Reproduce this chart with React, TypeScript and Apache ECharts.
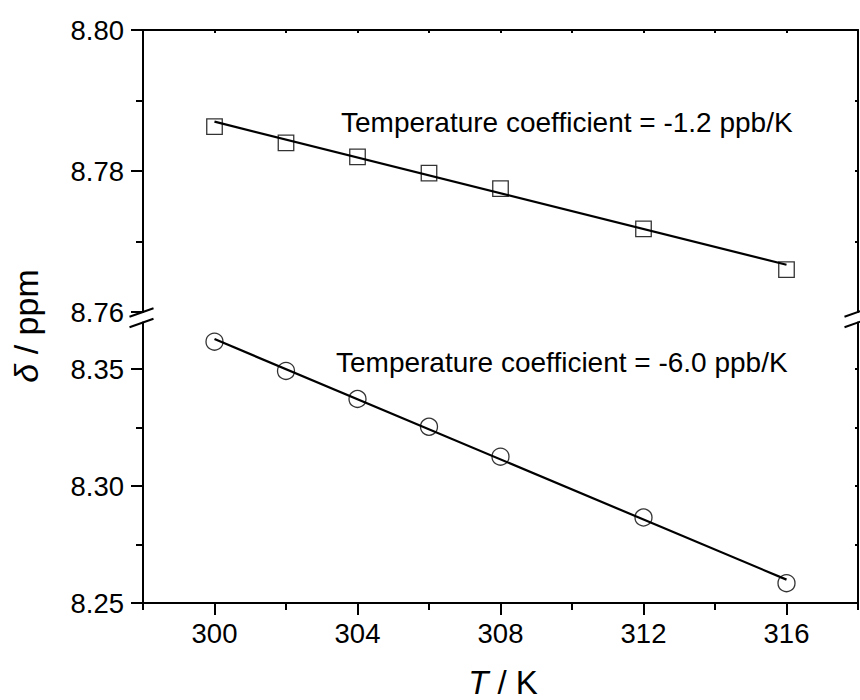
import React, { useEffect, useRef } from "react";
import * as echarts from "echarts";

const temps = [300, 302, 304, 306, 308, 312, 316];
const upperShift = [8.7863, 8.784, 8.782, 8.7797, 8.7775, 8.7718, 8.766];
const lowerShift = [8.3618, 8.3493, 8.3373, 8.3254, 8.3126, 8.2866, 8.2585];
const fitT = [300, 316];
const upperFit = [8.787, 8.7667];
const lowerFit = [8.3629, 8.26];
const upperMajor = [8.76, 8.78, 8.8];
const upperMinor = [8.77, 8.79];
const lowerMajor = [8.25, 8.3, 8.35];
const lowerMinor = [8.275, 8.325];
const xMajor = [300, 304, 308, 312, 316];
const xMinor = [298, 302, 306, 310, 314, 318];
const xTopTicks = [300, 302, 304, 306, 308, 310, 312, 314, 316];
const annotations = [
  "Temperature coefficient = -1.2 ppb/K",
  "Temperature coefficient = -6.0 ppb/K",
];

const FONT = 'Arial, "Liberation Sans", Helvetica, sans-serif';
const BLACK = "#000";

const L = 143;
const R = 858;
const TOP0 = 30;
const BOT0 = 312;
const TOP1 = 322.5;
const BOT1 = 603;

export default function App() {
  const ref = useRef<HTMLDivElement>(null);
  useEffect(() => {
    if (!ref.current) return;
    const chart = echarts.init(ref.current, null, { renderer: "svg" });
    const zip = (xs: number[], ys: number[]) => xs.map((x, i) => [x, ys[i]]);
    const lineStyle = { color: BLACK, width: 2 };
    const fmt = (v: number) => v.toFixed(2);

    const majorY = (grid: number, min: number, max: number, ticks: number[]) => ({
      type: "value",
      gridIndex: grid,
      position: "left",
      min,
      max,
      splitLine: { show: false },
      axisLine: { show: true, onZero: false, lineStyle },
      axisTick: { show: true, inside: false, length: 12, customValues: ticks, lineStyle },
      axisLabel: {
        show: true,
        customValues: ticks,
        formatter: fmt,
        margin: 19,
        color: BLACK,
        fontSize: 27.5,
        fontFamily: FONT,
      },
    });
    const minorY = (grid: number, min: number, max: number, ticks: number[]) => ({
      type: "value",
      gridIndex: grid,
      position: "left",
      min,
      max,
      splitLine: { show: false },
      axisLine: { show: false },
      axisTick: { show: true, inside: false, length: 7, customValues: ticks, lineStyle },
      axisLabel: { show: false },
    });
    const rightY = (grid: number, min: number, max: number, ticks: number[]) => ({
      type: "value",
      gridIndex: grid,
      position: "right",
      min,
      max,
      splitLine: { show: false },
      axisLine: { show: true, onZero: false, lineStyle },
      axisTick: { show: true, inside: true, length: 3, customValues: ticks, lineStyle },
      axisLabel: { show: false },
    });

    const slashes: any[] = [];
    [L, R].forEach((x0) => {
      [BOT0, TOP1].forEach((yb) => {
        slashes.push({
          type: "line",
          shape: { x1: x0 - 13.5, y1: yb + 4.7, x2: x0 + 10.5, y2: yb - 3.7 },
          style: { stroke: BLACK, lineWidth: 2 },
          z: 100,
        });
      });
    });

    chart.setOption({
      animation: false,
      backgroundColor: "#fff",
      grid: [
        { left: L, right: 860 - R, top: TOP0, height: BOT0 - TOP0 },
        { left: L, right: 860 - R, top: TOP1, height: BOT1 - TOP1 },
      ],
      xAxis: [
        {
          type: "value",
          gridIndex: 0,
          position: "top",
          min: 298,
          max: 318,
          splitLine: { show: false },
          axisLine: { show: true, onZero: false, lineStyle },
          axisTick: { show: true, inside: true, length: 3, customValues: xTopTicks, lineStyle },
          axisLabel: { show: false },
        },
        {
          type: "value",
          gridIndex: 1,
          position: "bottom",
          min: 298,
          max: 318,
          splitLine: { show: false },
          axisLine: { show: true, onZero: false, lineStyle },
          axisTick: { show: true, inside: false, length: 12, customValues: xMajor, lineStyle },
          axisLabel: {
            show: true,
            customValues: xMajor,
            margin: 16,
            color: BLACK,
            fontSize: 27.5,
            fontFamily: FONT,
          },
        },
        {
          type: "value",
          gridIndex: 1,
          position: "bottom",
          min: 298,
          max: 318,
          splitLine: { show: false },
          axisLine: { show: false },
          axisTick: { show: true, inside: false, length: 7, customValues: xMinor, lineStyle },
          axisLabel: { show: false },
        },
      ],
      yAxis: [
        majorY(0, 8.76, 8.8, upperMajor),
        minorY(0, 8.76, 8.8, upperMinor),
        rightY(0, 8.76, 8.8, [8.77, 8.78, 8.79]),
        majorY(1, 8.25, 8.37, lowerMajor),
        minorY(1, 8.25, 8.37, lowerMinor),
        rightY(1, 8.25, 8.37, [8.275, 8.3, 8.325, 8.35]),
      ],
      series: [
        {
          type: "scatter",
          xAxisIndex: 0,
          yAxisIndex: 0,
          data: zip(temps, upperShift),
          symbol: "rect",
          symbolSize: 15.5,
          itemStyle: { color: "rgba(0,0,0,0)", borderColor: BLACK, borderWidth: 1.3 },
          z: 2,
        },
        {
          type: "line",
          xAxisIndex: 0,
          yAxisIndex: 0,
          data: zip(fitT, upperFit),
          showSymbol: false,
          symbol: "none",
          lineStyle: { color: BLACK, width: 2.2 },
          z: 3,
        },
        {
          type: "scatter",
          xAxisIndex: 1,
          yAxisIndex: 3,
          data: zip(temps, lowerShift),
          symbol: "circle",
          symbolSize: 17,
          itemStyle: { color: "rgba(0,0,0,0)", borderColor: BLACK, borderWidth: 1.3 },
          z: 2,
        },
        {
          type: "line",
          xAxisIndex: 1,
          yAxisIndex: 3,
          data: zip(fitT, lowerFit),
          showSymbol: false,
          symbol: "none",
          lineStyle: { color: BLACK, width: 2.2 },
          z: 3,
        },
      ],
      graphic: [
        ...slashes,
        {
          type: "text",
          x: 341,
          y: 122,
          style: {
            text: annotations[0],
            fill: BLACK,
            fontSize: 28,
            fontFamily: FONT,
            align: "left",
            verticalAlign: "middle",
          },
        },
        {
          type: "text",
          x: 336,
          y: 362,
          style: {
            text: annotations[1],
            fill: BLACK,
            fontSize: 28,
            fontFamily: FONT,
            align: "left",
            verticalAlign: "middle",
          },
        },
        {
          type: "text",
          x: 503,
          y: 682,
          style: {
            text: "{i|T} / K",
            fill: BLACK,
            fontSize: 33,
            fontFamily: FONT,
            align: "center",
            verticalAlign: "middle",
            rich: {
              i: { fontStyle: "italic", fontSize: 33, fontFamily: FONT, fill: BLACK },
            },
          },
        },
        {
          type: "text",
          x: 26,
          y: 326,
          rotation: Math.PI / 2,
          style: {
            text: "{i|δ} / ppm",
            fill: BLACK,
            fontSize: 34,
            fontFamily: FONT,
            align: "center",
            verticalAlign: "middle",
            rich: {
              i: { fontStyle: "italic", fontSize: 34, fontFamily: FONT, fill: BLACK },
            },
          },
        },
      ],
    });
    return () => chart.dispose();
  }, []);
  return (
    <div
      ref={ref}
      style={{ position: "absolute", left: 0, top: 0, width: 860, height: 700 }}
    />
  );
}
